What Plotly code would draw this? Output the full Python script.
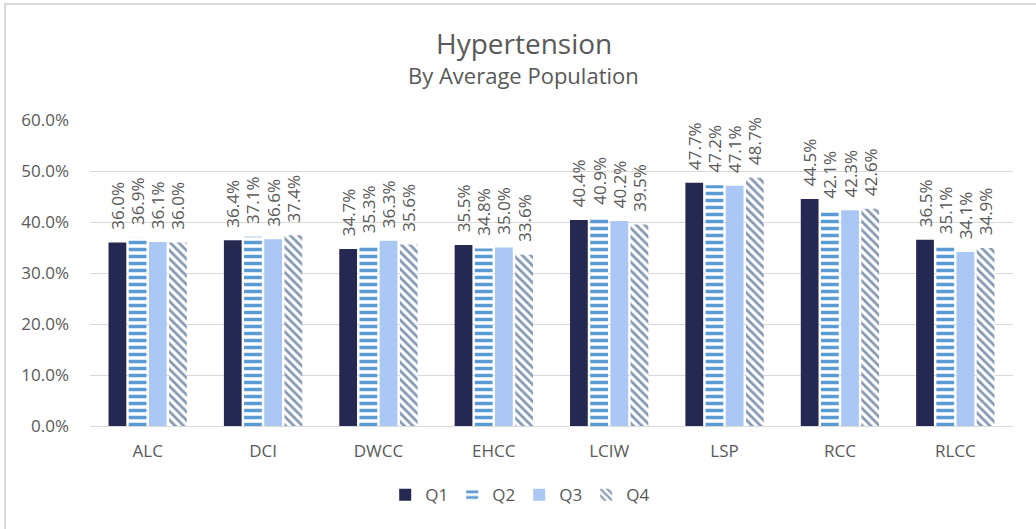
import plotly.graph_objects as go

categories = ["ALC", "DCI", "DWCC", "EHCC", "LCIW", "LSP", "RCC", "RLCC"]
q1 = [36.0, 36.4, 34.7, 35.5, 40.4, 47.7, 44.5, 36.5]
q2 = [36.9, 37.1, 35.3, 34.8, 40.9, 47.2, 42.1, 35.1]
q3 = [36.1, 36.6, 36.3, 35.0, 40.2, 47.1, 42.3, 34.1]
q4 = [36.0, 37.4, 35.6, 33.6, 39.5, 48.7, 42.6, 34.9]
series_names = ["Q1", "Q2", "Q3", "Q4"]
y_ticks = [0, 0.1, 0.2, 0.3, 0.4, 0.5, 0.6]

FONT = "Open Sans"
GREY = "#595959"

styles = [
    dict(color="#252850", pattern=None),
    dict(color="#5B9BD5", pattern=dict(shape="-", fgcolor="#5B9BD5", bgcolor="white",
                                       size=7, solidity=0.5, fillmode="replace")),
    dict(color="#ABC8F5", pattern=None),
    dict(color="#8497B0", pattern=dict(shape="\\", fgcolor="#8497B0", bgcolor="white",
                                       size=6, solidity=0.45, fillmode="replace")),
]

fig = go.Figure()
for name, vals, st in zip(series_names, [q1, q2, q3, q4], styles):
    yv = [v / 100 for v in vals]
    marker = dict(color=st["color"], line=dict(width=0))
    if st["pattern"]:
        marker["pattern"] = st["pattern"]
    fig.add_trace(go.Bar(
        x=categories, y=yv, name=name, marker=marker,
        text=["\u2007" + f"{v:.1f}%" for v in vals],
        textposition="outside", textangle=-90, constraintext="none",
        textfont=dict(family=FONT, size=17, color=GREY),
        cliponaxis=False,
    ))

fig.update_layout(
    width=1036, height=529,
    margin=dict(l=90, r=23, t=120, b=103, autoexpand=False),
    paper_bgcolor="white", plot_bgcolor="white",
    barmode="group", bargap=0.3, bargroupgap=0.12,
    font=dict(family=FONT, color=GREY),
    annotations=[
        dict(text="Hypertension", xref="paper", yref="paper", x=0.47, y=1.2516,
             xanchor="center", yanchor="middle", showarrow=False,
             font=dict(family=FONT, size=28, color=GREY)),
        dict(text="By Average Population", xref="paper", yref="paper", x=0.47, y=1.147,
             xanchor="center", yanchor="middle", showarrow=False,
             font=dict(family=FONT, size=22, color=GREY)),
    ],
    legend=dict(orientation="h", x=0.465, xanchor="center", y=-0.167, yanchor="top",
                font=dict(family=FONT, size=17, color=GREY), itemwidth=30,
                entrywidth=22, entrywidthmode="pixels"),
    shapes=[dict(type="rect", xref="paper", yref="paper",
                 x0=-0.0921, x1=1.035, y0=-0.356, y1=1.379,
                 line=dict(color="#D9D9D9", width=2), fillcolor="rgba(0,0,0,0)", layer="below")],
)
fig.update_yaxes(range=[0, 0.6], tickvals=y_ticks, tickformat=".1%", automargin=False,
                 showgrid=True, gridcolor="#D9D9D9", gridwidth=1,
                 zeroline=False, showline=False, ticks="",
                 tickfont=dict(family=FONT, size=17, color=GREY), ticklabelstandoff=20)
fig.update_xaxes(showline=True, linecolor="#D9D9D9", linewidth=1, ticks="", automargin=False,
                 tickfont=dict(family=FONT, size=17, color=GREY), ticklabelstandoff=10)

fig.write_html("out.html", config={"displayModeBar": False},
               post_script="document.body.style.margin='0';")
